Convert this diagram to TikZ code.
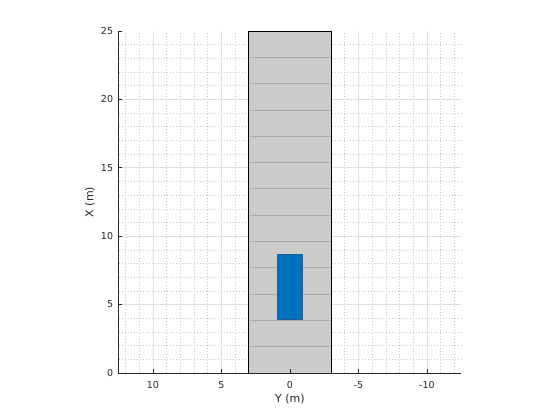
\documentclass[tikz,border=0pt]{standalone}
\usepackage{fontspec}
\setmainfont{DejaVu Sans}
\definecolor{roadgray}{HTML}{CCCCCC}
\definecolor{lanegray}{HTML}{ABABAB}
\definecolor{carblue}{HTML}{0072BD}
\definecolor{caredge}{HTML}{1F5E8E}
\definecolor{axcol}{HTML}{262626}
\begin{document}
\begin{tikzpicture}[x=-13.7pt,y=13.68pt,
  minorgrid/.style={draw=black!22, line width=0.6pt, dash pattern=on 0.6pt off 2.4pt},
  majorgrid/.style={draw=black!13, line width=0.7pt},
  laneline/.style={draw=lanegray, line width=0.8pt},
  roadbox/.style={fill=roadgray, draw=black, line width=0.9pt},
  carbox/.style={fill=carblue, draw=caredge, line width=0.7pt},
  axisline/.style={draw=axcol, line width=0.8pt},
  ticklab/.style={font=\fontsize{9.5}{11}\selectfont, text=axcol, inner sep=0pt},
  axlab/.style={font=\fontsize{11}{13}\selectfont, text=axcol, inner sep=0pt}
]
\useasboundingbox (-290pt,-47pt) rectangle (270pt,373pt);
% minor grid
\foreach \i in {-12,-11,-9,-8,-7,-6,-4,-3,-2,-1,1,2,3,4,6,7,8,9,11,12}
  \draw[minorgrid] (\i,0) -- (\i,25);
\foreach \j in {1,2,3,4,6,7,8,9,11,12,13,14,16,17,18,19,21,22,23,24}
  \draw[minorgrid] (12.5,\j) -- (-12.5,\j);
% major grid
\foreach \i in {-10,-5,0,5,10}
  \draw[majorgrid] (\i,0) -- (\i,25);
\foreach \j in {5,10,15,20}
  \draw[majorgrid] (12.5,\j) -- (-12.5,\j);
% road
\draw[roadbox] (3,0) rectangle (-3,25);
\foreach \k in {1,...,12}
  \draw[laneline] (3,{\k*25/13}) -- (-3,{\k*25/13});
\draw[draw=black, line width=0.9pt] (3,0) rectangle (-3,25);
% vehicle
\draw[carbox] (0.93,3.9) rectangle (-0.93,8.7);
% axes
\draw[axisline] (12.5,25) -- (12.5,0) -- (-12.5,0);
\foreach \i in {-10,-5,0,5,10}
  \draw[axisline] (\i,0) -- ++(0,3.5pt);
\foreach \j in {0,5,10,15,20,25}
  \draw[axisline] (12.5,\j) -- ++(3.5pt,0);
% tick labels
\foreach \i in {10,5,0,-5,-10}
  \node[ticklab, yshift=-12pt] (xt\i) at (\i,0) {\i};
\foreach \j in {0,5,10,15,20,25}
  \node[ticklab, anchor=east, xshift=-5.5pt] (yt\j) at (12.5,\j) {\j};
% axis labels
\node[axlab, yshift=-26pt] (xlab) at (0,0) {Y (m)};
\node[axlab, rotate=90] (ylab) at ([xshift=-28.75pt]12.5,12.5) {X (m)};
\end{tikzpicture}
\end{document}
